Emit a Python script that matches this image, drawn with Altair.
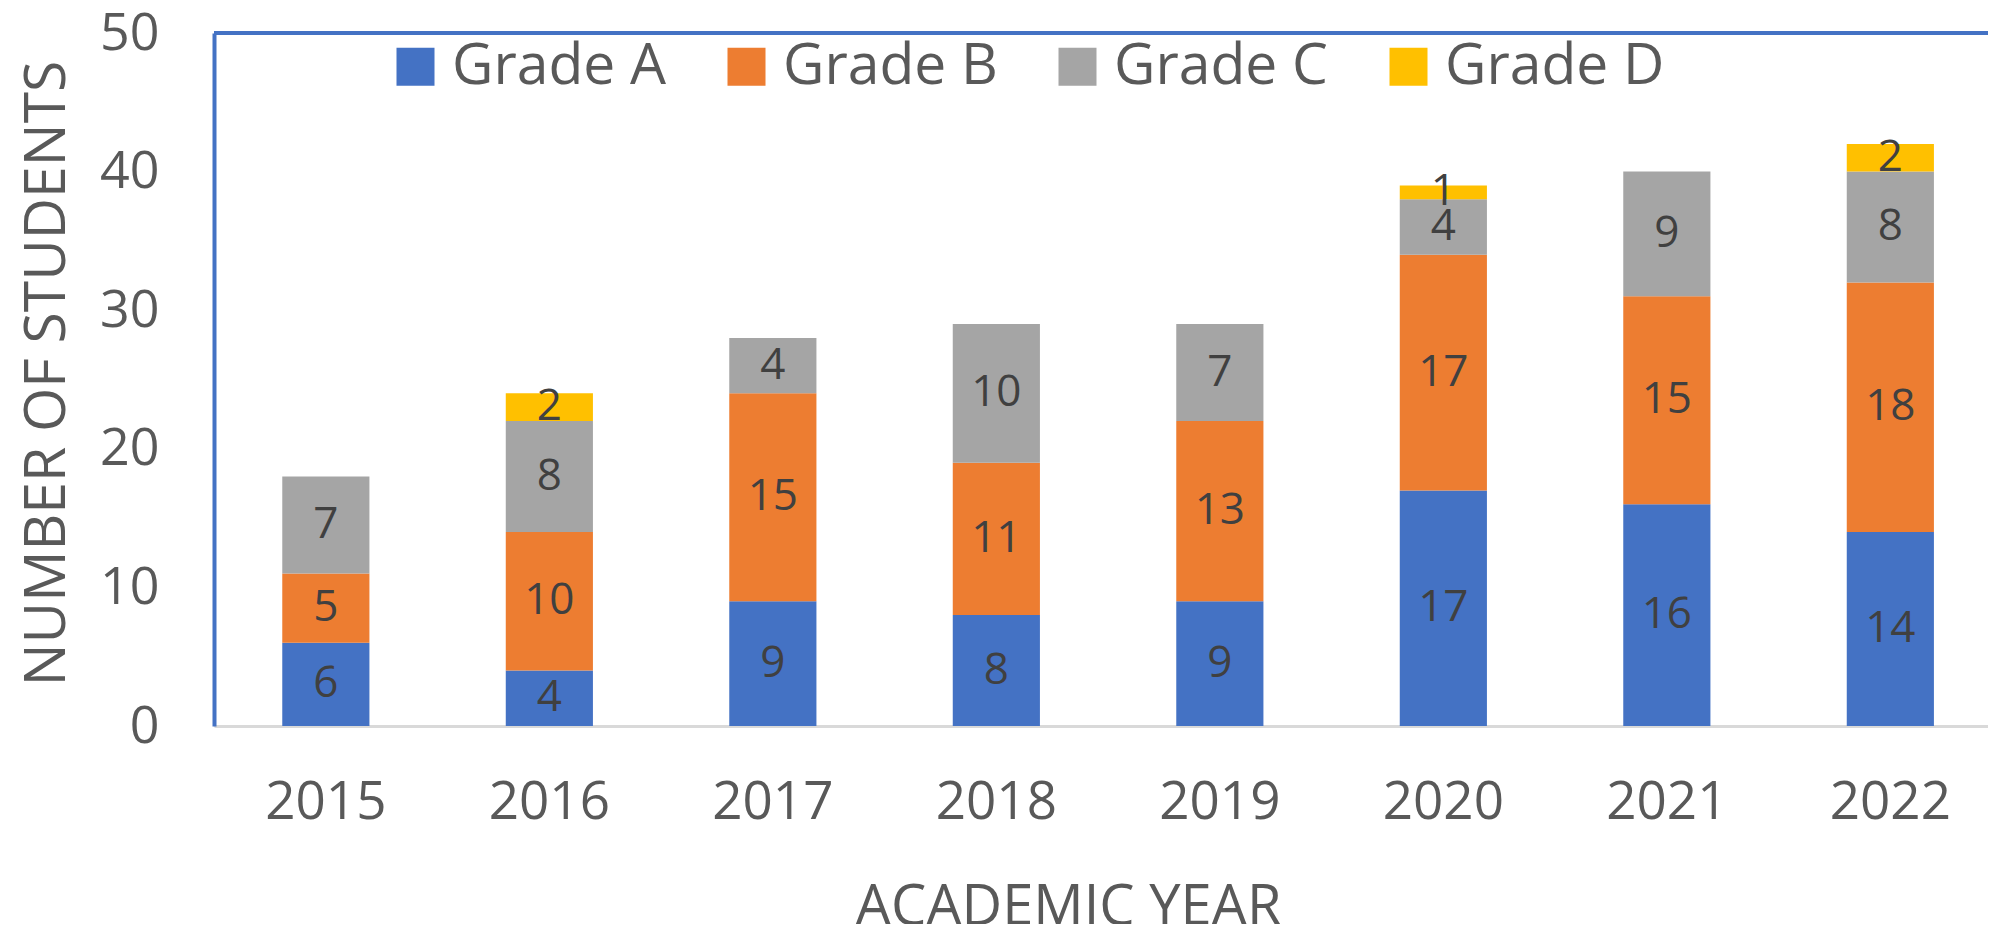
import altair as alt
import pandas as pd

years = ["2015", "2016", "2017", "2018", "2019", "2020", "2021", "2022"]
grades = ["Grade A", "Grade B", "Grade C", "Grade D"]
grade_a = [6, 4, 9, 8, 9, 17, 16, 14]
grade_b = [5, 10, 15, 11, 13, 17, 15, 18]
grade_c = [7, 8, 4, 10, 7, 4, 9, 8]
grade_d = [0, 2, 0, 0, 0, 1, 0, 2]
colors = ["#4472C4", "#ED7D31", "#A5A5A5", "#FFC000"]
y_ticks = [0, 10, 20, 30, 40, 50]

rows = []
for gi, (g, vals) in enumerate(zip(grades, [grade_a, grade_b, grade_c, grade_d])):
    for y, v in zip(years, vals):
        rows.append({"year": y, "grade": g, "order": gi, "count": v})
df = pd.DataFrame(rows)

FONT = "Open Sans"
TXT = "#595959"

x_enc = alt.X(
    "year:O",
    sort=years,
    scale=alt.Scale(paddingInner=0.61, paddingOuter=0.2737, align=0.558),
    axis=alt.Axis(
        labelAngle=0, ticks=False, labelFontSize=53, labelFont=FONT, labelColor=TXT,
        labelPadding=76, labelBaseline="middle",
        domainColor="#D9D9D9", domainWidth=3,
        title="ACADEMIC YEAR", titleFontSize=56, titleFont=FONT, titleColor=TXT,
        titleFontWeight="normal", titleX=854, titleY=181, titleBaseline="middle",
    ),
)

y_scale = alt.Scale(domain=[0, 50], nice=False)

base = alt.Chart(df).transform_stack(
    stack="count", groupby=["year"], as_=["y0", "y1"], sort=[alt.SortField("order", order="ascending")]
).transform_calculate(mid="(datum.y0 + datum.y1) / 2")

bars = base.mark_bar(strokeWidth=0).encode(
    x=x_enc,
    y=alt.Y(
        "y0:Q",
        scale=y_scale,
        axis=alt.Axis(
            values=y_ticks, grid=False, ticks=False, labelFontSize=52, labelFont=FONT,
            labelColor=TXT, labelPadding=55, domainColor="#4472C4", domainWidth=4,
            title="NUMBER OF STUDENTS", titleFontSize=57, titleFont=FONT, titleColor=TXT,
            titleFontWeight="normal", titleX=-167, titleY=340, titleBaseline="middle",
        ),
    ),
    y2="y1:Q",
    color=alt.Color(
        "grade:N",
        scale=alt.Scale(domain=grades, range=colors),
        sort=grades,
        legend=alt.Legend(
            title=None, orient="none", legendX=173, legendY=5, direction="horizontal",
            columns=4, symbolType="square", symbolSize=1444, symbolStrokeWidth=0,
            symbolOpacity=1, labelFontSize=57, labelFont=FONT, labelColor=TXT,
            labelOffset=8, labelLimit=500, columnPadding=51,
        ),
    ),
)

labels = base.transform_filter("datum.count > 0").mark_text(
    fontSize=44, font=FONT, color="#404040", baseline="middle", align="center"
).encode(
    x=alt.X("year:O", sort=years),
    y=alt.Y("mid:Q", scale=y_scale),
    text="count:Q",
)

top_line = alt.Chart(pd.DataFrame({"v": [50]})).mark_rule(
    color="#4472C4", strokeWidth=4
).encode(y=alt.Y("v:Q", scale=y_scale))

chart = alt.layer(bars, labels, top_line).properties(
    width=1774,
    height=693,
    autosize="none",
    padding={"left": 206, "top": 25, "right": 0, "bottom": 198},
).configure_view(strokeWidth=0).configure(background="white")

chart.save("out.html", embed_options={"renderer": "svg", "actions": False})
